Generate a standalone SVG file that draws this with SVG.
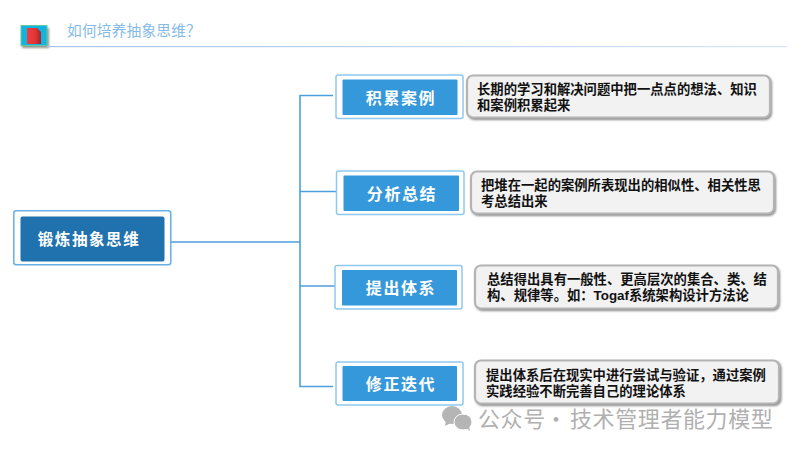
<svg xmlns="http://www.w3.org/2000/svg" width="800" height="450" viewBox="0 0 800 450">
<defs>
<linearGradient id="red" x1="0" y1="0" x2="1" y2="0"><stop offset="0" stop-color="#f43c3c"/><stop offset="0.6" stop-color="#e23434"/><stop offset="1" stop-color="#98282c"/></linearGradient>
<linearGradient id="rule" x1="0" y1="0" x2="1" y2="0"><stop offset="0" stop-color="#a9c6ea"/><stop offset="0.6" stop-color="#c2d8f0"/><stop offset="1" stop-color="#d4e4f5"/></linearGradient>
<filter id="blur" x="-10%" y="-10%" width="120%" height="120%"><feGaussianBlur stdDeviation="0.8"/></filter>
</defs>
<style>
text{font-family:"Liberation Sans","Noto Sans CJK SC",sans-serif}
.outer{fill:#fff;stroke:#8ec8ef;stroke-width:1.5}
.inner{fill:#3498db}
.lab{fill:#fff;font-size:16px;font-weight:700;letter-spacing:1.6px;text-anchor:middle}
.shadow{fill:#8a8a8a;filter:url(#blur)}
.note{fill:#f2f2f2;stroke:#b4b4b4;stroke-width:2.2}
.txt{fill:#111;font-size:13.33px;font-weight:700}
.conn{fill:none;stroke:#4d9fde;stroke-width:1.6}
</style>
<rect width="800" height="450" fill="#fff"/>
<g id="header">
<rect x="22" y="28" width="27" height="20" fill="#8f9488" filter="url(#blur)"/>
<rect x="21" y="25.500" width="26" height="20" fill="#0fb4df" stroke="#62c8a8"/>
<path d="M27 28h10l4 4v12h-14z" fill="url(#red)"/>
<rect x="47" y="46" width="740" height="1.200" fill="url(#rule)"/>
<text x="67" y="36" font-size="14.700" fill="#84bbe8" style="font-family:'Noto Sans CJK SC',sans-serif;font-weight:400;letter-spacing:0.200px">如何培养抽象思维？</text>
</g>
<g id="connectors">
<path class="conn" d="M171 242H300"/>
<path class="conn" d="M333 95.500H300V386.500H333"/>
<path class="conn" d="M300 191.500H336"/>
<path class="conn" d="M300 286H335"/>
</g>
<g id="root">
<rect x="13.800" y="210.800" width="157" height="54" rx="2.500" fill="#fff" stroke="#66b0e6" stroke-width="1.500"/>
<rect x="20.500" y="216.500" width="144" height="45" rx="2" fill="#1f72ad"/>
<text x="89" y="245" fill="#fff" font-size="15.500" font-weight="700" letter-spacing="1.600" text-anchor="middle">锻炼抽象思维</text>
</g>
<g id="n1">
<rect class="outer" x="336" y="75" width="127" height="43.500" rx="2"/>
<rect class="inner" x="342.500" y="79.500" width="115" height="35.500" rx="1"/>
<text class="lab" x="401" y="103.500">积累案例</text>
</g>
<g id="note1">
<rect class="shadow" x="467.500" y="76" width="304.500" height="44" rx="7"/>
<rect class="note" x="467" y="75.500" width="303" height="42" rx="6"/>
<text class="txt"><tspan x="477" y="94">长期的学习和解决问题中把一点点的想法、知识</tspan><tspan x="477" y="110">和案例积累起来</tspan></text>
</g>
<g id="n2">
<rect class="outer" x="336.500" y="171" width="127.500" height="43.500" rx="2"/>
<rect class="inner" x="343.500" y="175.500" width="115.500" height="35.500" rx="1"/>
<text class="lab" x="402" y="199.500">分析总结</text>
</g>
<g id="note2">
<rect class="shadow" x="471.500" y="172" width="304.500" height="44" rx="7"/>
<rect class="note" x="471" y="171.500" width="303" height="42" rx="6"/>
<text class="txt"><tspan x="481" y="190">把堆在一起的案例所表现出的相似性、相关性思</tspan><tspan x="481" y="206">考总结出来</tspan></text>
</g>
<g id="n3">
<rect class="outer" x="335" y="265.500" width="127" height="43.500" rx="2"/>
<rect class="inner" x="342" y="270" width="115" height="35.500" rx="1"/>
<text class="lab" x="401" y="294">提出体系</text>
</g>
<g id="note3">
<rect class="shadow" x="475.500" y="266" width="304.500" height="45" rx="7"/>
<rect class="note" x="475" y="265.500" width="303" height="43" rx="6"/>
<text class="txt"><tspan x="487" y="284">总结得出具有一般性、更高层次的集合、类、结</tspan><tspan x="487" y="300">构、规律等。如：Togaf系统架构设计方法论</tspan></text>
</g>
<g id="n4">
<rect class="outer" x="336" y="362" width="127" height="43" rx="2"/>
<rect class="inner" x="342.500" y="366" width="114.500" height="35" rx="1"/>
<text class="lab" x="401" y="390">修正迭代</text>
</g>
<g id="note4">
<rect class="shadow" x="475.500" y="361" width="306" height="45" rx="7"/>
<rect class="note" x="475" y="360.500" width="304" height="43" rx="6"/>
<text class="txt"><tspan x="486" y="380">提出体系后在现实中进行尝试与验证，通过案例</tspan><tspan x="486" y="396">实践经验不断完善自己的理论体系</tspan></text>
</g>
<g id="watermark">
<ellipse cx="452" cy="415" rx="10" ry="9" fill="#b5b5b5"/>
<path d="M446 421l-1 5 6-3z" fill="#b5b5b5"/>
<ellipse cx="463" cy="422" rx="9" ry="8" fill="#b5b5b5" stroke="#fff"/>
<path d="M466 428l4 3-1-5z" fill="#b5b5b5"/>
<text y="427" font-size="22" fill="#b0b0b0" style="font-family:'Noto Sans CJK SC',sans-serif;letter-spacing:0.600px"><tspan x="478">公众号</tspan><tspan x="545">·</tspan><tspan x="570">技术管理者能力模型</tspan></text>
</g>
</svg>
